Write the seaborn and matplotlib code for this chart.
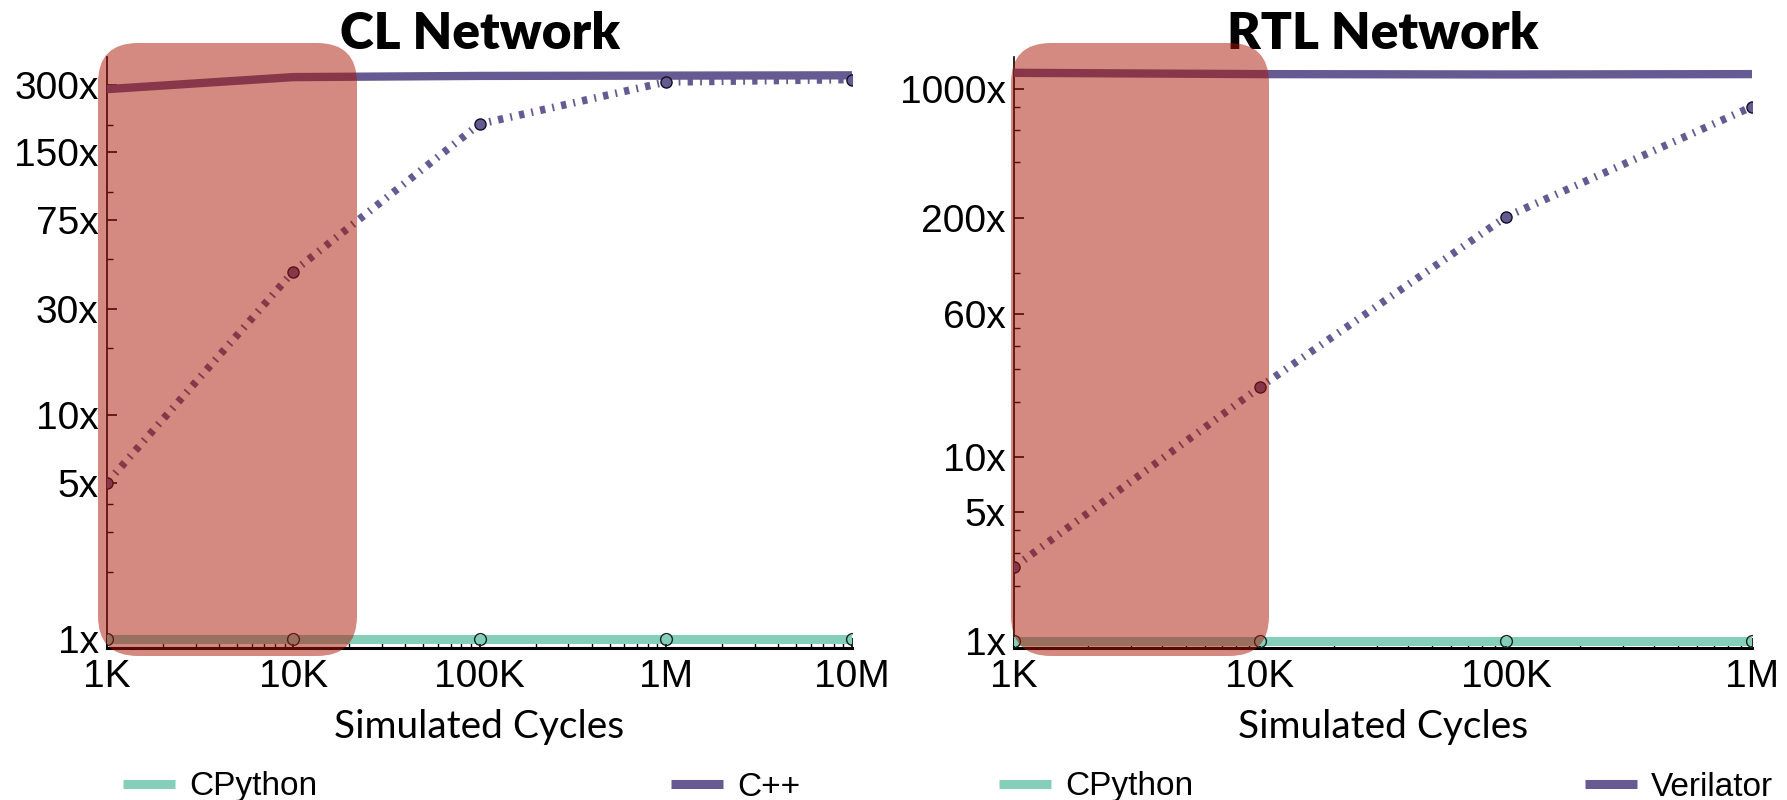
import matplotlib
matplotlib.use("Agg")
import matplotlib.pyplot as plt
import seaborn as sns
from matplotlib.lines import Line2D
from matplotlib.patches import FancyBboxPatch
from matplotlib.ticker import FixedLocator, LogLocator, NullFormatter

# ---- data -------------------------------------------------------------
cl_cycles = [1e3, 1e4, 1e5, 1e6, 1e7]
cl_cpython = [1, 1, 1, 1, 1]
cl_cpp = [288, 326, 330, 331, 332]
cl_cpp_total = [5, 44, 201, 310, 318]
cl_xticklabels = ["1K", "10K", "100K", "1M", "10M"]
cl_yticks = [1, 5, 10, 30, 75, 150, 300]
cl_yminor = [2, 3, 4, 20, 50, 100, 200]

rtl_cycles = [1e3, 1e4, 1e5, 1e6]
rtl_cpython = [1, 1, 1, 1]
rtl_verilator = [1225, 1205, 1200, 1205]
rtl_verilator_total = [2.52, 24, 202, 801]
rtl_xticklabels = ["1K", "10K", "100K", "1M"]
rtl_yticks = [1, 5, 10, 60, 200, 1000]
rtl_yminor = [2, 3, 4, 20, 30, 40, 50, 100, 400, 600, 800]

TEAL = "#85CEB7"
PURPLE = "#655B92"
HILITE = (0.67, 0.08, 0.02)

sns.set_style("ticks")
plt.rcParams["font.family"] = ["Liberation Sans", "DejaVu Sans"]
plt.rcParams["lines.scale_dashes"] = False
for key in ("text.color", "axes.labelcolor", "xtick.color", "ytick.color",
            "xtick.labelcolor", "ytick.labelcolor"):
    plt.rcParams[key] = "black"

fig = plt.figure(figsize=(17.87, 8), dpi=100)
W, H = 1787, 800


def px_axes(x0, x1, ytop, ybot):
    return fig.add_axes([x0 / W, 1 - ybot / H, (x1 - x0) / W, (ybot - ytop) / H])


def draw_panel(ax, cycles, cpython, fast, fast_total, xlim, ylim,
               xlabels, yticks, yminor, title, fast_name):
    ax.set_xscale("log")
    ax.set_yscale("log")
    sns.lineplot(x=cycles, y=cpython, ax=ax, color=TEAL, linewidth=6.5,
                 marker="o", markersize=8.5, markerfacecolor="none",
                 markeredgecolor="#10261f", markeredgewidth=1.0, zorder=3)
    sns.lineplot(x=cycles, y=fast, ax=ax, color=PURPLE, linewidth=6.0,
                 solid_capstyle="butt", zorder=3)
    sns.lineplot(x=cycles, y=fast_total, ax=ax, color=PURPLE, linewidth=5.5,
                 linestyle=(0, (3.8, 5.2, 1.3, 5.2)), dash_capstyle="butt",
                 marker="o", markersize=8, markerfacecolor=PURPLE,
                 markeredgecolor="#120f22", markeredgewidth=1.0, zorder=4)
    ax.set_xlim(*xlim)
    ax.set_ylim(*ylim)
    ax.xaxis.set_major_locator(FixedLocator(cycles))
    ax.set_xticklabels(xlabels)
    ax.xaxis.set_minor_locator(LogLocator(base=10, subs=range(2, 10)))
    ax.xaxis.set_minor_formatter(NullFormatter())
    ax.set_yticks(yticks)
    ax.set_yticklabels([f"{v}x" for v in yticks])
    ax.yaxis.set_minor_locator(FixedLocator(yminor))
    ax.yaxis.set_minor_formatter(NullFormatter())
    ax.tick_params(axis="both", which="major", direction="in", length=7,
                   width=1.2, labelsize=28, pad=6, color="black",
                   labelcolor="black")
    ax.tick_params(axis="x", which="major", pad=8)
    ax.tick_params(axis="both", which="minor", direction="in", length=4,
                   width=1.0, color="black")
    for side in ("top", "right"):
        ax.spines[side].set_visible(False)
    ax.spines["left"].set_linewidth(1.2)
    ax.spines["bottom"].set_linewidth(2.2)
    for side in ("left", "bottom"):
        ax.spines[side].set_color("black")
    ax.set_title(title, fontfamily="Lato", fontweight="heavy", fontsize=37,
                 pad=0, color="black")
    ax.set_xlabel("Simulated Cycles", fontfamily="Lato", fontsize=28,
                  labelpad=10, color="black")
    ax.set_ylabel("")
    ax.grid(False)
    return [
        Line2D([], [], color=TEAL, lw=6.5, solid_capstyle="butt", label="CPython"),
        Line2D([], [], color=PURPLE, lw=6.5, solid_capstyle="butt", label=fast_name),
    ]


ax_cl = px_axes(107, 852, 57, 648)
ax_rtl = px_axes(1014, 1752, 57, 648)

h_cl = draw_panel(ax_cl, cl_cycles, cl_cpython, cl_cpp, cl_cpp_total,
                  (1e3, 1e7), (0.911, 401), cl_xticklabels, cl_yticks,
                  cl_yminor, "CL Network", "C++")
h_rtl = draw_panel(ax_rtl, rtl_cycles, rtl_cpython, rtl_verilator,
                   rtl_verilator_total, (1e3, 1e6), (0.916, 1493),
                   rtl_xticklabels, rtl_yticks, rtl_yminor, "RTL Network",
                   "Verilator")

legend_y = 787
for ax, handles, (lx0, lx1) in ((ax_cl, h_cl, (123, 800)),
                                (ax_rtl, h_rtl, (999, 1773))):
    ax.legend(handles=handles, ncol=2, mode="expand", loc="center",
              bbox_to_anchor=(lx0 / W, 1 - (legend_y + 10) / H, (lx1 - lx0) / W, 20 / H),
              bbox_transform=fig.transFigure, frameon=False, fontsize=24,
              handlelength=1.56, handletextpad=0.42, borderpad=0,
              borderaxespad=0, labelcolor="black")

# highlighted region over the short-simulation range
for x0, x1 in ((98, 357), (1011, 1269)):
    ytop, ybot = 43, 656
    box = FancyBboxPatch((x0 / 100, (H - ybot) / 100), (x1 - x0) / 100,
                         (ybot - ytop) / 100,
                         boxstyle="round,pad=0,rounding_size=0.4",
                         transform=fig.dpi_scale_trans, facecolor=HILITE,
                         edgecolor="none", alpha=0.5, zorder=10)
    fig.add_artist(box)

fig.savefig("out.png", dpi=100)
